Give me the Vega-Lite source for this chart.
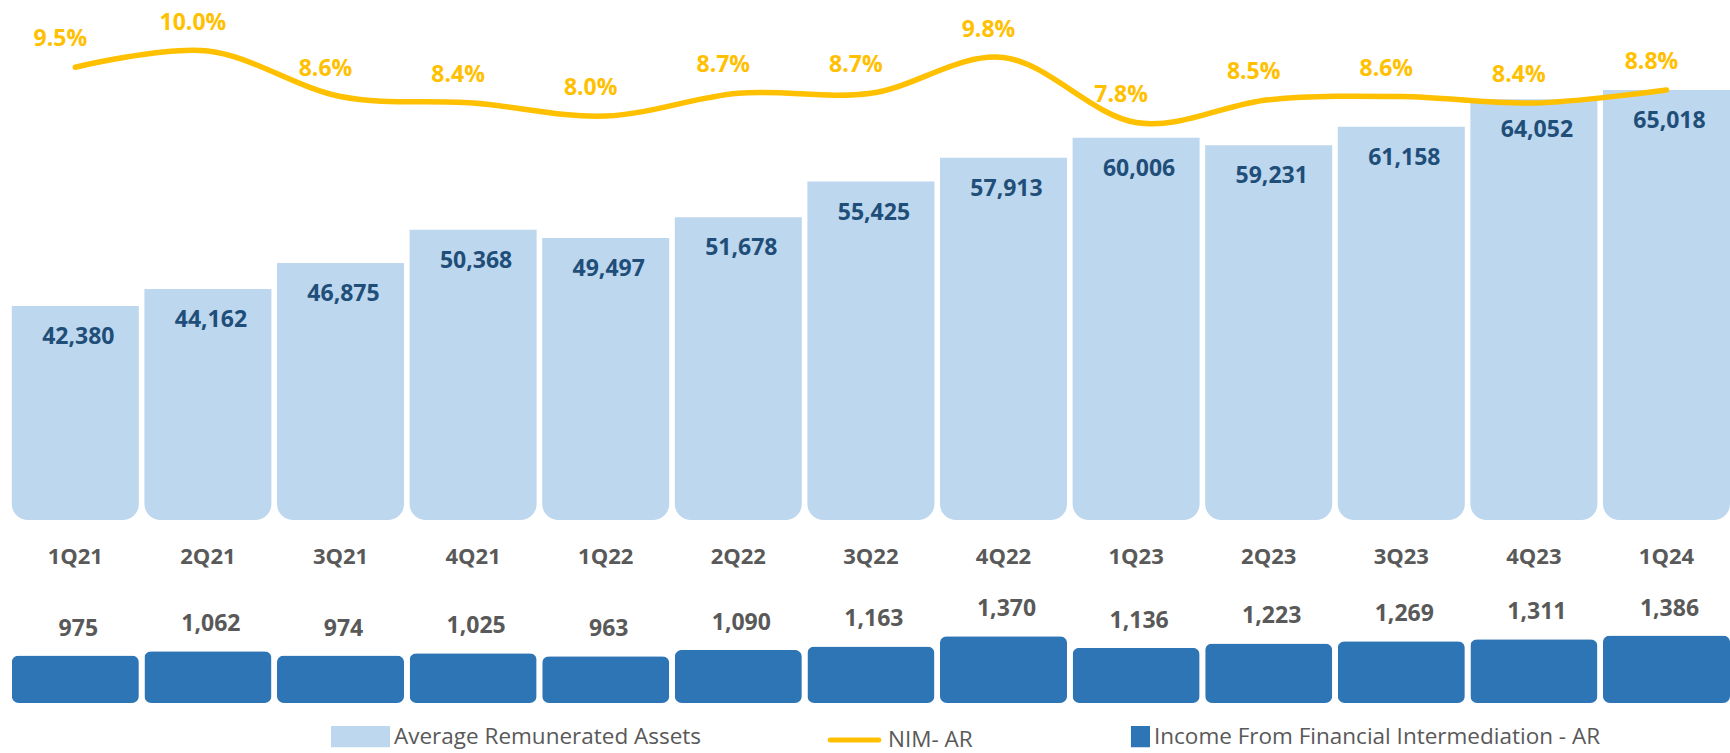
{
  "$schema": "https://vega.github.io/schema/vega-lite/v6.json",
  "padding": 0,
  "bounds": "flush",
  "spacing": 80,
  "background": "white",
  "config": {"view": {"stroke": null}, "font": "Open Sans"},
  "data": {"values": [
    {"q": "1Q21", "assets": 42380, "nim": 0.095, "income": 975},
    {"q": "2Q21", "assets": 44162, "nim": 0.100, "income": 1062},
    {"q": "3Q21", "assets": 46875, "nim": 0.086, "income": 974},
    {"q": "4Q21", "assets": 50368, "nim": 0.084, "income": 1025},
    {"q": "1Q22", "assets": 49497, "nim": 0.080, "income": 963},
    {"q": "2Q22", "assets": 51678, "nim": 0.087, "income": 1090},
    {"q": "3Q22", "assets": 55425, "nim": 0.087, "income": 1163},
    {"q": "4Q22", "assets": 57913, "nim": 0.098, "income": 1370},
    {"q": "1Q23", "assets": 60006, "nim": 0.078, "income": 1136},
    {"q": "2Q23", "assets": 59231, "nim": 0.085, "income": 1223},
    {"q": "3Q23", "assets": 61158, "nim": 0.086, "income": 1269},
    {"q": "4Q23", "assets": 64052, "nim": 0.084, "income": 1311},
    {"q": "1Q24", "assets": 65018, "nim": 0.088, "income": 1386}
  ]},
  "vconcat": [
    {
      "width": 1730,
      "height": 520,
      "encoding": {
        "x": {
          "field": "q", "type": "nominal", "sort": null,
          "scale": {"paddingInner": 0.042, "paddingOuter": 0.0445, "align": 1},
          "axis": {"title": null, "domain": false, "ticks": false, "tickSize": 0, "labelPadding": 26, "labelFontSize": 22, "labelFontWeight": "bold", "labelColor": "#595959", "labelAngle": 0, "labelBaseline": "top", "labelFont": "Open Sans"}
        }
      },
      "layer": [
        {
          "encoding": {
            "y": {"field": "assets", "type": "quantitative", "scale": {"domain": [19950, 74452], "nice": false, "zero": false}, "axis": null}
          },
          "layer": [
            {
              "mark": {"type": "bar", "cornerRadiusBottomLeft": 16, "cornerRadiusBottomRight": 16},
              "encoding": {
                "y2": {"datum": 19950},
                "color": {
                  "datum": "Average Remunerated Assets", "type": "nominal",
                  "scale": {"domain": ["Average Remunerated Assets", "NIM- AR", "Income From Financial Intermediation - AR"], "range": ["#BDD7EE", "#FFC000", "#2E75B6"]},
                  "legend": {
                    "orient": "none", "legendX": 331, "legendY": 707, "direction": "horizontal", "title": null,
                    "symbolSize": 2916, "labelFontSize": 22.5, "labelColor": "#595959", "labelFont": "Open Sans",
                    "labelOffset": 4, "columnPadding": 118, "labelLimit": 0,
                    "encode": {"symbols": {"update": {
                      "shape": {"signal": "datum.value === 'NIM- AR' ? 'M-0.9,0H0.9' : datum.value === 'Average Remunerated Assets' ? 'M-1,-0.3H1V0.3H-1Z' : 'M0.48,-0.3H1V0.3H0.48Z'"},
                      "fill": {"signal": "datum.value === 'NIM- AR' ? 'transparent' : datum.value === 'Average Remunerated Assets' ? '#BDD7EE' : '#2E75B6'"},
                      "stroke": {"signal": "datum.value === 'NIM- AR' ? '#FFC000' : 'transparent'"},
                      "strokeWidth": {"value": 5},
                      "strokeCap": {"value": "round"},
                      "opacity": {"value": 1}
                    }}}
                  }
                }
              }
            },
            {
              "mark": {"type": "text", "fontSize": 23, "fontWeight": "bold", "fill": "#1F4E79", "baseline": "middle", "dy": 31, "dx": 3},
              "encoding": {"text": {"field": "assets", "type": "quantitative", "format": ","}}
            }
          ]
        },
        {
          "encoding": {
            "y": {"field": "nim", "type": "quantitative", "scale": {"domain": [-0.0443, 0.1157], "nice": false, "zero": false}, "axis": null}
          },
          "layer": [
            {
              "mark": {"type": "line", "interpolate": "cardinal", "tension": 0, "strokeWidth": 5.5, "strokeCap": "round"},
              "encoding": {
                "color": {
                  "datum": "NIM- AR", "type": "nominal",
                  "scale": {"domain": ["Average Remunerated Assets", "NIM- AR", "Income From Financial Intermediation - AR"], "range": ["#BDD7EE", "#FFC000", "#2E75B6"]}
                }
              }
            },
            {
              "mark": {"type": "text", "fontSize": 23, "fontWeight": "bold", "fill": "#FFC000", "baseline": "middle", "dy": -28, "dx": -15},
              "encoding": {"text": {"field": "nim", "type": "quantitative", "format": ".1%"}}
            }
          ]
        }
      ],
      "resolve": {"scale": {"y": "independent"}}
    },
    {
      "width": 1730,
      "height": 103,
      "encoding": {
        "x": {
          "field": "q", "type": "nominal", "sort": null,
          "scale": {"paddingInner": 0.042, "paddingOuter": 0.0445, "align": 1},
          "axis": null
        },
        "y": {"field": "income", "type": "quantitative", "scale": {"domain": [0, 2117], "nice": false, "zero": true}, "axis": null}
      },
      "layer": [
        {
          "mark": {"type": "bar", "cornerRadius": 7},
          "encoding": {
            "color": {
              "datum": "Income From Financial Intermediation - AR", "type": "nominal",
              "scale": {"domain": ["Average Remunerated Assets", "NIM- AR", "Income From Financial Intermediation - AR"], "range": ["#BDD7EE", "#FFC000", "#2E75B6"]}
            }
          }
        },
        {
          "mark": {"type": "text", "fontSize": 23, "fontWeight": "bold", "fill": "#595959", "baseline": "middle", "dy": -27, "dx": 3},
          "encoding": {"text": {"field": "income", "type": "quantitative", "format": ","}}
        }
      ]
    }
  ]
}
